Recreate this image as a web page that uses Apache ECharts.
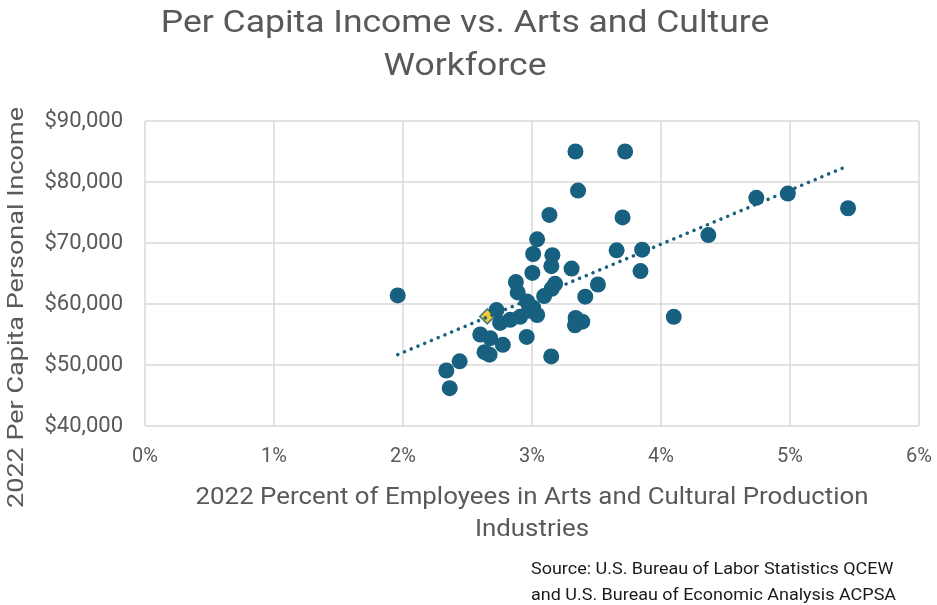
<!DOCTYPE html>
<html>
<head>
<meta charset="utf-8">
<script src="https://cdn.jsdelivr.net/npm/echarts@6/dist/echarts.min.js"></script>
<style>
  html, body { margin: 0; padding: 0; background: #fff; }
  #chart { width: 937px; height: 605px; }
</style>
</head>
<body>
<div id="chart"></div>
<script>
// Share of employees in arts & cultural production (%) per state, 2022
const artsShare = [
  3.337, 3.722, 3.357, 3.135, 3.702, 3.040, 3.009, 3.158, 3.150, 3.656,
  3.854, 3.841, 3.307, 3.003, 3.511, 3.413, 3.179, 3.153, 3.094, 2.875,
  2.889, 2.725, 1.959, 3.338, 3.390, 3.333, 4.099, 3.149, 2.959, 2.774,
  2.599, 2.676, 2.632, 2.671, 2.439, 2.336, 2.362, 4.739, 4.983, 5.450,
  4.367, 2.962, 3.009, 3.040, 2.908, 2.831, 2.753, 2.977
];
// Per capita personal income ($), same order
const perCapitaIncome = [
  85000, 85000, 78600, 74600, 74200, 70600, 68200, 68000, 66200, 68800,
  68900, 65400, 65800, 65100, 63200, 61200, 63300, 62500, 61300, 63600,
  61900, 59000, 61400, 57700, 57100, 56500, 57900, 51400, 54600, 53300,
  55000, 54400, 52100, 51700, 50600, 49100, 46200, 77400, 78100, 75700,
  71300, 60400, 59400, 58200, 57900, 57400, 56900, 58900
];
// Highlighted state
const highlightShare = [2.653];
const highlightIncome = [57970];

// Axis ticks
const xTicks = [0, 1, 2, 3, 4, 5, 6];
const yTicks = [40000, 50000, 60000, 70000, 80000, 90000];

const points = artsShare.map((x, i) => [x, perCapitaIncome[i]]);
const highlight = highlightShare.map((x, i) => [x, highlightIncome[i]]);

// Least-squares linear trendline across the data range
const n = points.length;
const mx = artsShare.reduce((a, b) => a + b, 0) / n;
const my = perCapitaIncome.reduce((a, b) => a + b, 0) / n;
let sxy = 0, sxx = 0;
points.forEach(([x, y]) => { sxy += (x - mx) * (y - my); sxx += (x - mx) * (x - mx); });
const slope = sxy / sxx;
const intercept = my - slope * mx;
const xMin = Math.min(...artsShare), xMax = Math.max(...artsShare);
const trend = [[xMin, intercept + slope * xMin], [xMax, intercept + slope * xMax]];

const FONT = 'Roboto, "Liberation Sans", sans-serif';
const GREY = '#595959';
const BLUE = '#17607f';

// Text helper for titles, axis names and the source note
function label(text, x, y, size, color, scaleX, align, extra) {
  return Object.assign({
    type: 'text',
    x: x, y: y,
    scaleX: scaleX,
    style: {
      text: text,
      font: size + 'px ' + FONT,
      fill: color,
      align: align,
      verticalAlign: 'middle'
    }
  }, extra || {});
}

const chart = echarts.init(document.getElementById('chart'), null, { renderer: 'canvas' });
chart.setOption({
  animation: false,
  backgroundColor: '#ffffff',
  textStyle: { fontFamily: FONT },
  grid: { left: 145, right: 18, top: 121, bottom: 179, containLabel: false },
  xAxis: {
    type: 'value',
    min: xTicks[0],
    max: xTicks[xTicks.length - 1],
    interval: 1,
    axisLine: { show: false },
    axisTick: { show: false },
    axisLabel: { formatter: v => v + '%', fontSize: 20, color: GREY, margin: 21, fontFamily: FONT },
    splitLine: { show: true, lineStyle: { color: '#d9d9d9', width: 1.5 } }
  },
  yAxis: {
    type: 'value',
    min: yTicks[0],
    max: yTicks[yTicks.length - 1],
    interval: 10000,
    axisLine: { show: false },
    axisTick: { show: false },
    axisLabel: {
      formatter: v => '$' + v.toLocaleString('en-US'),
      fontSize: 22, color: GREY, margin: 22, fontFamily: FONT
    },
    splitLine: { show: true, lineStyle: { color: '#d9d9d9', width: 1.5 } }
  },
  graphic: [
    label('Per Capita Income vs. Arts and Culture', 465, 24, 31, GREY, 1.145, 'center'),
    label('Workforce', 465, 67, 31, GREY, 1.145, 'center'),
    label('2022 Percent of Employees in Arts and Cultural Production', 532, 498.5, 23.5, GREY, 1.1, 'center'),
    label('Industries', 532, 530.5, 23.5, GREY, 1.1, 'center'),
    label('2022 Per Capita Personal Income', 17.5, 307.5, 22.5, GREY, 1.2, 'center', { rotation: Math.PI / 2 }),
    label('Source: U.S. Bureau of Labor Statistics QCEW', 531, 570, 16.5, '#1a1a1a', 1.09, 'left'),
    label('and U.S. Bureau of Economic Analysis ACPSA', 531, 596, 16.5, '#1a1a1a', 1.09, 'left')
  ],
  series: [
    {
      type: 'scatter',
      data: points,
      symbol: 'circle',
      symbolSize: 16,
      itemStyle: { color: BLUE, opacity: 1 },
      z: 2
    },
    {
      type: 'scatter',
      data: highlight,
      symbol: 'path://M0,-1L1,0L0,1L-1,0Z',
      symbolSize: 15,
      itemStyle: { color: '#f2bd00', borderColor: BLUE, borderWidth: 1.5 },
      z: 3
    },
    {
      type: 'line',
      data: trend,
      symbol: 'none',
      silent: true,
      lineStyle: { color: BLUE, width: 3.5, type: [0.1, 7.2], cap: 'round' },
      z: 4
    }
  ]
});
</script>
</body>
</html>
